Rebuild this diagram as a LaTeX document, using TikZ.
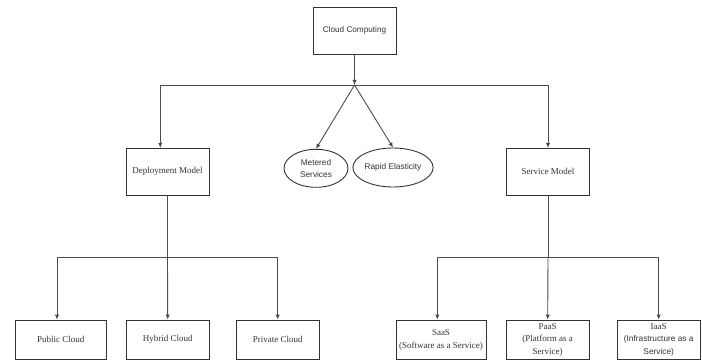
\documentclass[tikz,border=0pt]{standalone}
\usepackage{fontspec}
\setmainfont{Liberation Serif}
\setsansfont{Liberation Sans}
\usepackage{xcolor}
\usepackage{tikz}
\usetikzlibrary{shapes,arrows,positioning,calc,arrows.meta}

\begin{document}
\begin{tikzpicture}[x=1pt,y=-1pt,
    box/.style={draw=black!80, line width=0.9pt, rectangle, minimum width=83pt, minimum height=47pt, inner sep=1pt, align=center, text=black!80, font=\fontsize{9}{12.5}\selectfont},
    leaf/.style={box, minimum height=39.5pt},
    oval/.style={draw=black!80, line width=0.9pt, ellipse, minimum width=64pt, minimum height=38pt, inner sep=0pt, align=center, text=black!80, font=\sffamily\fontsize{8.3}{12}\selectfont},
    link/.style={draw=black!70, line width=0.9pt},
    arr/.style={link, -{Latex[length=5pt,width=4.5pt]}}]
    \useasboundingbox (0,0) rectangle (702,361);

    % Top
    \node[box, font=\sffamily\fontsize{8.2}{10}\selectfont] (cc) at (354.5,30.5) {Cloud Computing};
    \coordinate (hub) at (354.5,85);

    % Middle row
    \node[box] (dm) at (167.5,171.8) {Deployment Model};
    \node[box] (sm) at (548,171.8) {Service Model};
    \node[oval] (met) at (316,168.3) {Metered\\Services};
    \node[oval, minimum height=39pt] (rap) at (393,167.5) {Rapid Elasticity};

    % Bottom row
    \node[leaf, minimum width=91pt] (pub) at (60.7,339.75) {Public Cloud};
    \node[leaf] (hyb) at (167.7,339.75) {Hybrid Cloud};
    \node[leaf] (pri) at (277.7,339.75) {Private Cloud};
    \node[leaf, minimum width=90pt] (saas) at (441,339.75) {SaaS\\(Software as a Service)};
    \node[leaf] (paas) at (547.7,339.75) {PaaS\\(Platform as a\\Service)};
    \node[leaf] (iaas) at (658.7,339.75) {IaaS\\\sffamily\fontsize{8.3}{12.5}\selectfont(Infrastructure as a\\\sffamily\fontsize{8.3}{12.5}\selectfont Service)};

    % Connectors
    \draw[arr] (cc.south) -- (hub);
    \draw[arr] (hub) -| ([xshift=-7.2pt]dm.north);
    \draw[arr] (hub) -| (sm.north);
    \draw[arr] (hub) -- (met.north);
    \draw[arr] (hub) -- (rap.north);

    \coordinate (dmj) at (167.5,257.7);
    \coordinate (smj) at (548,257.7);
    \draw[link] (dm.south) -- (dmj);
    \draw[arr] (dmj) -| ([xshift=-3.7pt]pub.north);
    \draw[arr] (dmj) -- (hyb.north);
    \draw[arr] (dmj) -| (pri.north);
    \draw[link] (sm.south) -- (smj);
    \draw[arr] (smj) -| ([xshift=-3.7pt]saas.north);
    \draw[arr] (smj) -- (paas.north);
    \draw[arr] (smj) -| (iaas.north);
\end{tikzpicture}
\end{document}
